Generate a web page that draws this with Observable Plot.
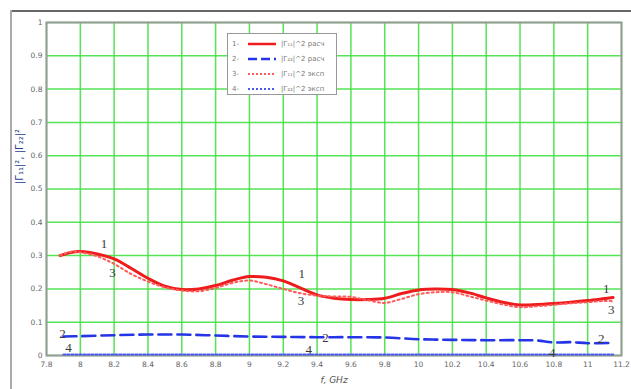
<!DOCTYPE html>
<html>
<head>
<meta charset="utf-8">
<script src="https://cdn.jsdelivr.net/npm/d3@7"></script>
<script src="https://cdn.jsdelivr.net/npm/@observablehq/plot@0.6"></script>
<style>
  html, body { margin: 0; padding: 0; background: #fff; }
  #wrap { position: relative; width: 631px; height: 389px; overflow: hidden; }
  .edge-top { position: absolute; left: 10px; top: 10px; width: 621px; height: 2px; background: #666; }
  .edge-left { position: absolute; left: 10px; top: 10px; width: 2px; height: 379px; background: #aaa; }
  #legend { position: absolute; left: 227px; top: 33px; width: 110px; height: 62px; border: 1.5px solid #999; background: #fff;
            font-family: "DejaVu Sans", sans-serif; font-size: 7px; color: #777; box-sizing: border-box; padding-top: 2px; }
  .row { height: 15px; display: flex; align-items: center; }
  .row .n { width: 16px; padding-left: 4px; }
  .row svg { width: 28px; height: 6px; margin-right: 5px; }
  #chart { position: absolute; left: 0; top: 0; }
</style>
</head>
<body>
<div id="wrap">
  <div id="chart"></div>
  <div class="edge-top"></div>
  <div class="edge-left"></div>
  <div id="legend"></div>
</div>
<script>
// Frequency grid (GHz)
const freq = [7.88, 7.95, 8.0, 8.1, 8.2, 8.3, 8.4, 8.5, 8.6, 8.7, 8.8, 8.9, 9.0, 9.1, 9.2, 9.3, 9.4, 9.5, 9.6, 9.7, 9.8, 9.9, 10.0, 10.1, 10.2, 10.3, 10.4, 10.5, 10.6, 10.7, 10.8, 10.9, 11.0, 11.1, 11.15];
// 1 - |Γ11|^2 расч (red solid)
const g11calc = [0.300, 0.310, 0.312, 0.305, 0.290, 0.262, 0.232, 0.208, 0.198, 0.200, 0.210, 0.226, 0.237, 0.235, 0.224, 0.203, 0.182, 0.172, 0.168, 0.168, 0.172, 0.186, 0.197, 0.200, 0.198, 0.188, 0.173, 0.160, 0.152, 0.153, 0.156, 0.160, 0.165, 0.171, 0.174];
// 3 - |Γ11|^2 эксп (red dotted)
const g11exp = [0.300, 0.312, 0.310, 0.298, 0.275, 0.245, 0.222, 0.205, 0.195, 0.193, 0.203, 0.218, 0.225, 0.214, 0.200, 0.187, 0.180, 0.177, 0.176, 0.166, 0.158, 0.170, 0.184, 0.190, 0.190, 0.178, 0.165, 0.153, 0.145, 0.148, 0.152, 0.157, 0.160, 0.164, 0.163];
// 2 - |Γ22|^2 расч (blue dashed)
const f22 = [7.9, 8.0, 8.2, 8.4, 8.6, 8.8, 9.0, 9.2, 9.4, 9.6, 9.8, 10.0, 10.2, 10.4, 10.6, 10.7, 10.8, 10.9, 11.0, 11.15];
const g22calc = [0.057, 0.058, 0.061, 0.063, 0.063, 0.060, 0.057, 0.056, 0.055, 0.055, 0.054, 0.049, 0.047, 0.046, 0.046, 0.045, 0.039, 0.040, 0.037, 0.038];
// 4 - |Γ22|^2 эксп (blue dotted)
const g22exp = [0.003, 0.003, 0.003, 0.003, 0.003, 0.003, 0.003, 0.003, 0.003, 0.003, 0.003, 0.003, 0.003, 0.003, 0.003, 0.003, 0.003, 0.003, 0.003, 0.003];

// curve number annotations
const annF = [8.14, 8.19, 7.895, 7.93, 9.31, 9.305, 9.45, 9.35, 11.11, 11.14, 11.08, 10.79];
const annV = [0.336, 0.249, 0.066, 0.024, 0.246, 0.165, 0.054, 0.018, 0.20, 0.138, 0.051, 0.009];
const annT = ["1", "3", "2", "4", "1", "3", "2", "4", "1", "3", "2", "4"];

const xTicks = [7.8, 8, 8.2, 8.4, 8.6, 8.8, 9, 9.2, 9.4, 9.6, 9.8, 10, 10.2, 10.4, 10.6, 10.8, 11, 11.2];
const yTicks = [0, 0.1, 0.2, 0.3, 0.4, 0.5, 0.6, 0.7, 0.8, 0.9, 1];

const legendNames = ["|Γ₁₁|^2 расч", "|Γ₂₂|^2 расч", "|Γ₁₁|^2 эксп", "|Γ₂₂|^2 эксп"];

const s1 = freq.map((f, i) => ({f, v: g11calc[i]}));
const s3 = freq.map((f, i) => ({f, v: g11exp[i]}));
const s2 = f22.map((f, i) => ({f, v: g22calc[i]}));
const s4 = f22.map((f, i) => ({f, v: g22exp[i]}));
const ann = annF.map((f, i) => ({f, v: annV[i], t: annT[i]}));

const styles = [
  {stroke: "#ee1c1c", strokeWidth: 3, dash: null},
  {stroke: "#2434e6", strokeWidth: 2.6, dash: "13,6"},
  {stroke: "#ff5a5a", strokeWidth: 2, dash: "2,3"},
  {stroke: "#4a58ee", strokeWidth: 2, dash: "2,2"}
];

const chart = Plot.plot({
  width: 631,
  height: 389,
  marginLeft: 46,
  marginRight: 10,
  marginTop: 22,
  marginBottom: 34,
  style: {fontFamily: "DejaVu Sans, sans-serif", fontSize: "7.5px", color: "#666", background: "transparent"},
  x: {domain: [7.8, 11.2], ticks: xTicks, tickFormat: d => String(+d.toFixed(1)), label: null},
  y: {domain: [0, 1], ticks: yTicks, tickFormat: d => String(+d.toFixed(1)), label: null},
  marks: [
    Plot.gridX(xTicks, {stroke: "#44e044", strokeOpacity: 0.9, strokeWidth: 1.5}),
    Plot.gridY(yTicks, {stroke: "#44e044", strokeOpacity: 0.9, strokeWidth: 1.5}),
    Plot.frame({stroke: "#9a9a9a", strokeWidth: 2}),
    Plot.axisX({ticks: xTicks, tickSize: 0, tickPadding: 6, tickFormat: d => String(+d.toFixed(1))}),
    Plot.axisY({ticks: yTicks, tickSize: 0, tickPadding: 4, tickFormat: d => String(+d.toFixed(1))}),
    Plot.line(s4, {x: "f", y: "v", stroke: styles[3].stroke, strokeWidth: styles[3].strokeWidth, strokeDasharray: styles[3].dash}),
    Plot.line(s2, {x: "f", y: "v", stroke: styles[1].stroke, strokeWidth: styles[1].strokeWidth, strokeDasharray: styles[1].dash, curve: "catmull-rom"}),
    Plot.line(s1, {x: "f", y: "v", stroke: styles[0].stroke, strokeWidth: styles[0].strokeWidth, curve: "catmull-rom"}),
    Plot.line(s3, {x: "f", y: "v", stroke: styles[2].stroke, strokeWidth: styles[2].strokeWidth, strokeDasharray: styles[2].dash, curve: "catmull-rom"}),
    Plot.text(ann, {x: "f", y: "v", text: "t", fontFamily: "Liberation Serif, serif", fontSize: 13, fill: "#3a3a3a"}),
    Plot.text(["|Γ₁₁|², |Γ₂₂|²"], {frameAnchor: "left", dx: -27, dy: -5, rotate: -90, fontSize: 10, fill: "#2a3f8a", fontFamily: "DejaVu Sans, sans-serif"}),
    Plot.text(["f, GHz"], {frameAnchor: "bottom", dy: 27, fontSize: 9, fill: "#555", fontStyle: "italic"})
  ]
});
document.getElementById("chart").appendChild(chart);

// legend
const leg = document.getElementById("legend");
legendNames.forEach((name, i) => {
  const row = document.createElement("div");
  row.className = "row";
  const st = styles[i];
  row.innerHTML = `<span class="n">${i + 1}-</span><svg viewBox="0 0 28 6"><line x1="0" y1="3" x2="28" y2="3" stroke="${st.stroke}" stroke-width="${Math.min(st.strokeWidth, 2.5)}" ${st.dash ? `stroke-dasharray="${i === 1 ? '9,4' : '2,2'}"` : ""}/></svg><span>${name}</span>`;
  leg.appendChild(row);
});
</script>
</body>
</html>
